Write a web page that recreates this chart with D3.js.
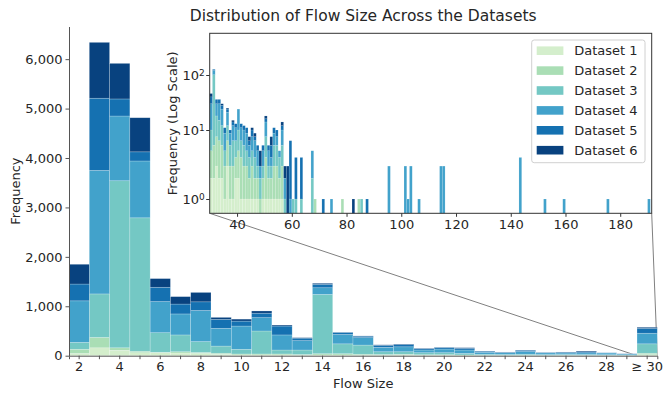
<!DOCTYPE html>
<html>
<head>
<meta charset="utf-8">
<script src="https://cdn.jsdelivr.net/npm/d3@7"></script>
<style>
  body { margin: 0; background: #fff; }
  text { font-family: "DejaVu Sans", sans-serif; fill: #262626; }
</style>
</head>
<body>
<svg id="chart" width="665" height="394"></svg>
<script>
// flow size bins of the main histogram
const flowSizes = ["2","3","4","5","6","7","8","9","10","11","12","13","14","15","16",
  "17","18","19","20","21","22","23","24","25","26","27","28","29","≥ 30"];
const datasetNames = ["Dataset 1","Dataset 2","Dataset 3","Dataset 4","Dataset 5","Dataset 6"];
const colors = ["#d4eecc","#aadeb5","#74c8c4","#42a2cb","#1571b1","#08427f"];

// counts per flow size bin, one array per dataset
const ds1 = [45,160,110,60,60,55,45,30,15,15,15,10,15,15,10,10,15,10,10,5,5,5,5,3,5,3,3,2,20];
const ds2 = [85,210,50,30,10,25,20,20,20,20,20,15,25,25,20,15,15,10,10,10,5,5,5,5,5,5,5,3,30];
const ds3 = [140,880,3380,2700,395,340,220,145,95,465,80,90,1200,200,185,55,50,40,40,30,20,15,20,15,15,15,12,10,190];
const ds4 = [840,2500,1310,1150,630,425,630,360,470,270,305,190,135,190,150,90,100,55,75,70,40,35,55,35,30,35,35,20,215];
const ds5 = [340,1460,345,185,290,200,175,180,100,90,180,50,70,40,30,40,45,25,30,35,20,10,25,8,15,20,4,3,100];
const ds6 = [400,1130,720,690,175,150,190,40,40,45,20,10,20,5,5,10,10,10,5,12,5,5,5,3,5,17,2,2,20];
const yTicks = [0,1000,2000,3000,4000,5000,6000];

// inset: flow sizes >= 30, unit bins (only non-empty bins listed)
const insetBins = [30,31,32,33,34,35,36,37,38,39,40,41,42,43,44,45,46,47,48,49,50,51,52,53,54,55,56,57,58,59,60,61,
  63,67,68,71,74,78,82,84,85,87,95,101,102,103,106,114,115,143,152,159,175,190];
const ins1 = [2,2,3,2,2,1,3,1,1,2,2,1,1,1,1,1,1,1,0,1,1,1,1,1,1,1,1,0,0,0,0,0,
  0,0,0,0,0,0,0,0,0,0,0,0,0,0,0,0,0,0,0,0,0,0];
const ins2 = [3,4,5,5,4,2,4,2,2,2,3,3,2,2,1,2,1,1,1,1,3,1,1,2,2,1,2,0,0,0,0,0,
  0,0,1,0,0,1,0,1,0,0,0,0,0,0,0,0,0,0,0,0,0,0];
const ins3 = [5,95,10,8,6,2,5,3,4,3,5,3,3,2,2,2,2,1,1,1,4,1,1,3,3,2,3,1,0,0,1,1,
  1,2,0,0,0,0,0,0,1,0,0,0,0,0,0,0,0,0,0,0,0,0];
const ins4 = [20,20,12,15,12,4,9,3,5,4,14,4,4,4,2,3,3,2,1,2,6,2,1,3,2,1,4,1,0,1,0,0,
  0,3,0,0,1,0,0,0,0,0,3,3,1,3,1,3,3,4,1,1,1,1];
const ins5 = [10,6,6,6,4,2,3,1,2,2,0,2,2,2,1,2,1,1,0,1,2,1,2,2,2,0,2,0,0,6,0,3,
  3,0,0,1,0,0,0,0,0,1,0,0,0,0,0,0,0,0,0,0,0,0];
const ins6 = [6,0,0,0,2,0,1,0,1,0,0,0,0,0,1,1,1,0,2,0,2,0,2,0,0,0,2,1,3,0,0,0,
  0,0,0,0,0,0,1,0,0,0,0,0,0,0,0,0,0,0,0,0,0,0];
const insetXTicks = [40,60,80,100,120,140,160,180];
const insetYTicks = [1,10,100];

const mainSeries = [ds1, ds2, ds3, ds4, ds5, ds6];
const insetSeries = [ins1, ins2, ins3, ins4, ins5, ins6];

const svg = d3.select("#chart");
const margin = {top: 26.5, right: 7.7, bottom: 38.3, left: 69};
const W = 665, H = 394;

// ---------- main chart ----------
const table = flowSizes.map((f, i) => {
  const row = {size: f};
  datasetNames.forEach((n, k) => row[n] = mainSeries[k][i]);
  return row;
});
const stacked = d3.stack().keys(datasetNames)(table);

const x = d3.scaleBand().domain(flowSizes).range([margin.left, W - margin.right]).padding(0);
const y = d3.scaleLinear().domain([0, 6661]).range([H - margin.bottom, margin.top]);

svg.append("text")
  .attr("x", (margin.left + W - margin.right) / 2).attr("y", 21)
  .attr("text-anchor", "middle").style("font-size", "15.5px")
  .text("Distribution of Flow Size Across the Datasets");

// inset geometry (set before connectors)
const inset = {left: 209.7, right: 651.7, top: 33.3, bottom: 213.3};

// connector lines from the inset to the "≥ 30" bin
const zoomX0 = x("≥ 30"), zoomX1 = x("≥ 30") + x.bandwidth();
svg.append("line")
  .attr("x1", inset.left).attr("y1", inset.bottom).attr("x2", zoomX0).attr("y2", y(0))
  .attr("stroke", "#808080").attr("stroke-width", 1);
svg.append("line")
  .attr("x1", inset.right).attr("y1", inset.bottom).attr("x2", zoomX1).attr("y2", y(0))
  .attr("stroke", "#808080").attr("stroke-width", 1);

svg.append("g").selectAll("g").data(stacked).join("g")
  .attr("fill", (d, i) => colors[i])
  .selectAll("rect").data(d => d).join("rect")
  .attr("x", d => x(d.data.size))
  .attr("y", d => y(d[1]))
  .attr("width", x.bandwidth())
  .attr("height", d => y(d[0]) - y(d[1]))
  .attr("stroke", "#fff").attr("stroke-opacity", 0.35).attr("stroke-width", 0.6);

const xAxis = svg.append("g")
  .attr("transform", `translate(0,${H - margin.bottom})`)
  .call(d3.axisBottom(x).tickSizeOuter(0).tickSize(3.5).tickPadding(3)
    .tickFormat(d => (d === "≥ 30" || (+d) % 2 === 0) ? d : ""));
xAxis.select(".domain").attr("stroke", "#555");
xAxis.selectAll(".tick line").attr("stroke", "#555");
xAxis.selectAll("text").style("font-size", "13px").attr("fill", "#262626");

const yAxis = svg.append("g")
  .attr("transform", `translate(${margin.left},0)`)
  .call(d3.axisLeft(y).tickValues(yTicks).tickFormat(d3.format(",")).tickSize(3.5).tickPadding(3).tickSizeOuter(0));
yAxis.select(".domain").attr("stroke", "#555");
yAxis.selectAll(".tick line").attr("stroke", "#555");
yAxis.selectAll("text").style("font-size", "13px").attr("fill", "#262626");

svg.append("text")
  .attr("x", (margin.left + W - margin.right) / 2).attr("y", 388)
  .attr("text-anchor", "middle").style("font-size", "13px").text("Flow Size");
svg.append("text")
  .attr("transform", `translate(19.5,${(margin.top + H - margin.bottom) / 2}) rotate(-90)`)
  .attr("text-anchor", "middle").style("font-size", "13px").text("Frequency");

// ---------- inset (log scale) ----------
const xi = d3.scaleLinear().domain([30, 191.5]).range([inset.left, inset.right]);
const yi = d3.scaleLog().domain([0.627, 1, 10, 100, 580])
  .range([inset.bottom, 199, 130, 75, inset.top]).clamp(true);
const yiv = v => v > 0 ? yi(v) : inset.bottom;

const insetTable = insetBins.map((b, i) => {
  const row = {bin: b};
  datasetNames.forEach((n, k) => row[n] = insetSeries[k][i]);
  return row;
});
const insetStacked = d3.stack().keys(datasetNames)(insetTable);

const ig = svg.append("g");
ig.append("rect")
  .attr("x", inset.left).attr("y", inset.top)
  .attr("width", inset.right - inset.left).attr("height", inset.bottom - inset.top)
  .attr("fill", "#fff");

ig.append("g").selectAll("g").data(insetStacked).join("g")
  .attr("fill", (d, i) => colors[i])
  .selectAll("rect").data(d => d.filter(s => s[1] > s[0])).join("rect")
  .attr("x", d => xi(d.data.bin))
  .attr("y", d => yiv(d[1]))
  .attr("width", d => xi(d.data.bin + 1) - xi(d.data.bin))
  .attr("height", d => yiv(d[0]) - yiv(d[1]))
  .attr("stroke", "#fff").attr("stroke-opacity", 0.3).attr("stroke-width", 0.4);

ig.append("rect")
  .attr("x", inset.left).attr("y", inset.top)
  .attr("width", inset.right - inset.left).attr("height", inset.bottom - inset.top)
  .attr("fill", "none").attr("stroke", "#333").attr("stroke-width", 1);

const ixAxis = ig.append("g")
  .attr("transform", `translate(0,${inset.bottom})`)
  .call(d3.axisBottom(xi).tickValues(insetXTicks).tickSize(3.5).tickPadding(3).tickSizeOuter(0));
ixAxis.select(".domain").remove();
ixAxis.selectAll(".tick line").attr("stroke", "#333");
ixAxis.selectAll("text").style("font-size", "13px").attr("fill", "#262626");

const iyAxis = ig.append("g")
  .attr("transform", `translate(${inset.left},0)`)
  .call(d3.axisLeft(yi).tickValues(insetYTicks).tickSize(3.5).tickPadding(3).tickFormat(""));
iyAxis.select(".domain").remove();
iyAxis.selectAll(".tick line").attr("stroke", "#333");
iyAxis.selectAll(".tick").append("text")
  .attr("x", -5).attr("dy", "0.32em").attr("text-anchor", "end")
  .style("font-size", "13px")
  .each(function(d) {
    const t = d3.select(this);
    t.append("tspan").text("10");
    t.append("tspan").attr("dy", "-0.45em").style("font-size", "9px").text(Math.round(Math.log10(d)));
  });

svg.append("text")
  .attr("transform", `translate(177,${(inset.top + inset.bottom) / 2}) rotate(-90)`)
  .attr("text-anchor", "middle").style("font-size", "13px").text("Frequency (Log Scale)");

// legend
const legend = svg.append("g").attr("transform", "translate(531.7,40)");
legend.append("rect")
  .attr("width", 113.3).attr("height", 122.7).attr("rx", 2.5)
  .attr("fill", "#fff").attr("fill-opacity", 0.8).attr("stroke", "#d0d0d0");
const items = legend.selectAll("g.item").data(datasetNames).join("g")
  .attr("class", "item")
  .attr("transform", (d, i) => `translate(0,${10.7 + i * 19.9})`);
items.append("rect")
  .attr("x", 5).attr("y", -4.3).attr("width", 26.7).attr("height", 8.6)
  .attr("fill", (d, i) => colors[i]);
items.append("text")
  .attr("x", 42.6).attr("y", 4.7).style("font-size", "13px").text(d => d);
</script>
</body>
</html>
